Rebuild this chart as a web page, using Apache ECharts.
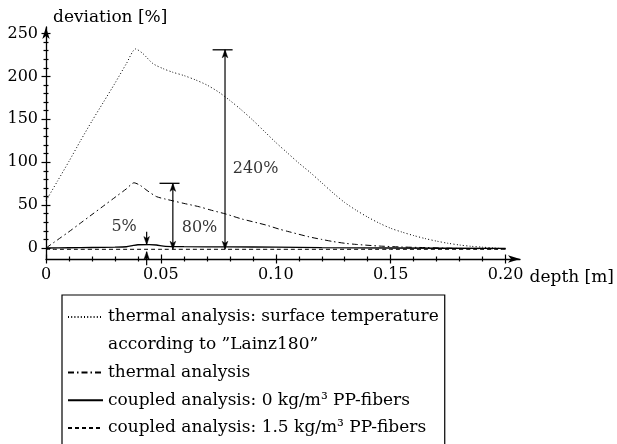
<!DOCTYPE html>
<html>
<head>
<meta charset="utf-8">
<script src="https://cdn.jsdelivr.net/npm/echarts@6/dist/echarts.min.js"></script>
<style>html,body{margin:0;padding:0;background:#fff;}#c{width:617px;height:444px;}</style>
</head>
<body>
<div id="c"></div>
<script>
// ---- data ----
const seriesNames = [
  'thermal analysis: surface temperature',
  'according to ”Lainz180”',
  'thermal analysis',
  'coupled analysis: 0 kg/m³ PP-fibers',
  'coupled analysis: 1.5 kg/m³ PP-fibers'
];
const depthSurface = [0,0.005,0.01,0.015,0.02,0.025,0.03,0.035,0.039,0.042,0.0465,0.051,0.055,0.06,0.065,0.07,0.075,0.08,0.085,0.09,0.095,0.1,0.105,0.11,0.115,0.12,0.125,0.13,0.135,0.14,0.145,0.15,0.155,0.16,0.165,0.17,0.175,0.18,0.185,0.19,0.195,0.2];
const devSurface   = [55,78,101,125,148,170,192,215,232,227,215,209,205,201,196,190,182,172,161,149,136,123,111,99,88,76,64,53,44,36,29,23,18.5,14.5,11,8,5.5,3.5,2,1,0,-1];
const depthThermal = [0,0.005,0.01,0.015,0.02,0.025,0.03,0.035,0.0383,0.041,0.044,0.048,0.052,0.0552,0.06,0.0668,0.072,0.0783,0.085,0.0957,0.1015,0.105,0.1145,0.12,0.125,0.1304,0.135,0.145,0.155,0.165,0.18,0.2];
const devThermal   = [0,9.5,19,29,39,49,59,69,76,73,67,60,57,55,52,48,44,39.6,34,26.8,22,19.5,13,10,7.5,5.4,4.2,2.3,1.2,0.5,-0.5,-1];
const depthCoupled0 = [0,0.01,0.02,0.03,0.035,0.038,0.04,0.045,0.048,0.052,0.06,0.08,0.1,0.12,0.15,0.2];
const devCoupled0   = [0,0.3,0.6,1,1.5,3,3.8,4,3.5,2,1.6,1.3,1,0.5,0,-0.5];
const depthCoupled15 = [0,0.05,0.1,0.15,0.2];
const devCoupled15   = [-1.5,-1.5,-1.5,-1.5,-1.5];

const xMajor = [0,0.05,0.10,0.15,0.20];
const xTickLabels = ['0','0.05','0.10','0.15','0.20'];
const xMinor = [0.01,0.02,0.03,0.04,0.06,0.07,0.08,0.09,0.11,0.12,0.13,0.14,0.16,0.17,0.18,0.19];
const yMajor = [0,50,100,150,200,250];
const yTickLabels = ['0','50','100','150','200','250'];
const yMinor = [10,20,30,40,60,70,80,90,110,120,130,140,160,170,180,190,210,220,230,240];

// annotations
// vertical arrows: depth, from value, to value, head at start (1/0), head at end (1/0)
const arrowDepth = [0.0779, 0.0552, 0.0438, 0.0438];
const arrowFrom  = [-1.5, -1.5, 19, -20];
const arrowTo    = [231, 75.4, 4, -4.3];
const arrowHeadStart = [1, 1, 0, 0];
const arrowHeadEnd   = [1, 1, 1, 1];
// horizontal T-bars: from depth, to depth, value
const barFrom  = [0.0725, 0.0494];
const barTo    = [0.0812, 0.0581];
const barValue = [231, 75.4];
// text labels
const annoLabels = ['240%', '80%', '5%'];
const annoLabelDepth = [0.0912, 0.0668, 0.034];
const annoLabelValue = [92, 23.5, 25];

// ---- chart ----
const FONT = 'DejaVu Serif';
const FS = 16, FS_TEXT = 17;
const zip = (a, b) => a.map((v, i) => [v, b[i]]);
const chart = echarts.init(document.getElementById('c'), null, {renderer: 'canvas'});

function tickAxis(values, inside, len, extra) {
  return Object.assign({
    type: 'value', gridIndex: 0,
    axisLine: {show: false, onZero: false},
    axisTick: {show: true, customValues: values, inside: inside, length: len, lineStyle: {color: '#000', width: 1.2}},
    axisLabel: {show: false},
    splitLine: {show: false}
  }, extra);
}

const xBase = {min: 0, max: 0.2, position: 'bottom'};
const yBase = {min: -12.8, max: 250, position: 'left'};

const xAxes = [
  tickAxis(xMajor, false, 4.5, Object.assign({}, xBase, {
    axisLabel: {show: true, customValues: xMajor, margin: 8, color: '#000', fontFamily: FONT, fontSize: FS,
      formatter: v => xTickLabels[xMajor.findIndex(m => Math.abs(m - v) < 1e-9)]},
    name: '\ndepth [m]', nameLocation: 'end', nameGap: 24,
    nameTextStyle: {color: '#000', fontFamily: FONT, fontSize: FS_TEXT, align: 'left', verticalAlign: 'top', lineHeight: 12.5}
  })),
  tickAxis(xMajor, true, 4.5, Object.assign({}, xBase)),
  tickAxis(xMinor, false, 2.5, Object.assign({}, xBase)),
  tickAxis(xMinor, true, 2.5, Object.assign({}, xBase)),
  {type: 'value', gridIndex: 1, min: 0, max: 1, position: 'bottom',
   axisLine: {show: true, onZero: false, symbol: ['none', 'arrow'], symbolSize: [5.5, 12], lineStyle: {color: '#000', width: 1.3}},
   axisTick: {show: false}, axisLabel: {show: false}, splitLine: {show: false}}
];
const yAxes = [
  tickAxis(yMajor, false, 4.5, Object.assign({}, yBase, {
    axisLabel: {show: true, customValues: yMajor, margin: 8, color: '#000', fontFamily: FONT, fontSize: FS,
      formatter: v => yTickLabels[yMajor.indexOf(v)]}
  })),
  tickAxis(yMajor, true, 4.5, Object.assign({}, yBase)),
  tickAxis(yMinor, false, 2.5, Object.assign({}, yBase)),
  tickAxis(yMinor, true, 2.5, Object.assign({}, yBase)),
  {type: 'value', gridIndex: 1, min: 0, max: 1, position: 'left',
   axisLine: {show: true, onZero: false, symbol: ['none', 'arrow'], symbolSize: [5.5, 12], lineStyle: {color: '#000', width: 1.3}},
   axisTick: {show: false}, axisLabel: {show: false}, splitLine: {show: false},
   name: 'deviation [%]', nameLocation: 'end', nameGap: 9,
   nameTextStyle: {color: '#000', fontFamily: FONT, fontSize: FS_TEXT, align: 'left', verticalAlign: 'middle', padding: [0, 0, 0, 7]}}
];

function lineSeries(name, data, dash, width) {
  return {
    type: 'line', name: name, xAxisIndex: 0, yAxisIndex: 0, data: data,
    symbol: 'none', showSymbol: false, smooth: 0.25, silent: true,
    lineStyle: {color: '#000', width: width, type: dash},
    itemStyle: {color: '#000'}
  };
}

function arrowHead(tip, dir) { // dir: +1 pointing down (screen), -1 pointing up
  const L = 8, N = 6, W = 2.8;
  return {
    type: 'polygon',
    shape: {points: [[tip[0], tip[1]], [tip[0] - W, tip[1] - dir * L], [tip[0], tip[1] - dir * N], [tip[0] + W, tip[1] - dir * L]]},
    style: {fill: '#000', stroke: '#000', lineWidth: 0.5}
  };
}

function renderArrow(params, api) {
  const p0 = api.coord([api.value(0), api.value(1)]);
  const p1 = api.coord([api.value(0), api.value(2)]);
  const dir = p1[1] > p0[1] ? 1 : -1;
  const children = [{type: 'line', shape: {x1: p0[0], y1: p0[1], x2: p1[0], y2: p1[1]}, style: {stroke: '#000', lineWidth: 1.2}}];
  if (api.value(3)) children.push(arrowHead(p0, -dir));
  if (api.value(4)) children.push(arrowHead(p1, dir));
  return {type: 'group', children: children};
}

function renderBar(params, api) {
  const p0 = api.coord([api.value(0), api.value(2)]);
  const p1 = api.coord([api.value(1), api.value(2)]);
  return {type: 'line', shape: {x1: p0[0], y1: p0[1], x2: p1[0], y2: p1[1]}, style: {stroke: '#000', lineWidth: 1.3}};
}

const option = {
  animation: false,
  backgroundColor: '#fff',
  grid: [
    {left: 46, right: 109.7, top: 33.5, bottom: 185, containLabel: false},
    {left: 46, right: 97, top: 27, bottom: 185, containLabel: false}
  ],
  xAxis: xAxes,
  yAxis: yAxes,
  legend: {
    orient: 'vertical', left: 62, top: 295, height: 300,
    padding: [12, 6, 30, 5], itemGap: 7.75, itemWidth: 35, itemHeight: 12,
    borderColor: '#000', borderWidth: 1.2, selectedMode: false,
    itemStyle: {opacity: 0, color: 'rgba(0,0,0,0)', borderWidth: 0},
    textStyle: {color: '#000', fontFamily: FONT, fontSize: FS_TEXT, lineHeight: 20},
    data: seriesNames
  },
  series: [
    lineSeries(seriesNames[0], zip(depthSurface, devSurface), [1, 2.2], 1),
    {type: 'line', name: seriesNames[1], xAxisIndex: 0, yAxisIndex: 0, data: [], symbol: 'none',
     lineStyle: {color: 'rgba(0,0,0,0)', width: 0}, itemStyle: {color: 'rgba(0,0,0,0)'}},
    lineSeries(seriesNames[2], zip(depthThermal, devThermal), [6, 3, 1.5, 3], 1),
    lineSeries(seriesNames[3], zip(depthCoupled0, devCoupled0), 'solid', 1.3),
    lineSeries(seriesNames[4], zip(depthCoupled15, devCoupled15), [4, 3], 1),
    {
      type: 'custom', name: 'arrows', xAxisIndex: 0, yAxisIndex: 0, clip: false, silent: true,
      renderItem: renderArrow,
      data: arrowDepth.map((d, i) => [d, arrowFrom[i], arrowTo[i], arrowHeadStart[i], arrowHeadEnd[i]])
    },
    {
      type: 'custom', name: 'bars', xAxisIndex: 0, yAxisIndex: 0, clip: false, silent: true,
      renderItem: renderBar,
      data: barFrom.map((d, i) => [d, barTo[i], barValue[i]])
    },
    {
      type: 'scatter', name: 'annotations', xAxisIndex: 0, yAxisIndex: 0, clip: false, silent: true,
      symbolSize: 0,
      data: annoLabels.map((t, i) => [annoLabelDepth[i], annoLabelValue[i], t]),
      label: {show: true, position: 'inside', formatter: p => p.value[2], color: '#000', fontFamily: FONT, fontSize: FS}
    }
  ]
};
chart.setOption(option);
</script>
</body>
</html>
